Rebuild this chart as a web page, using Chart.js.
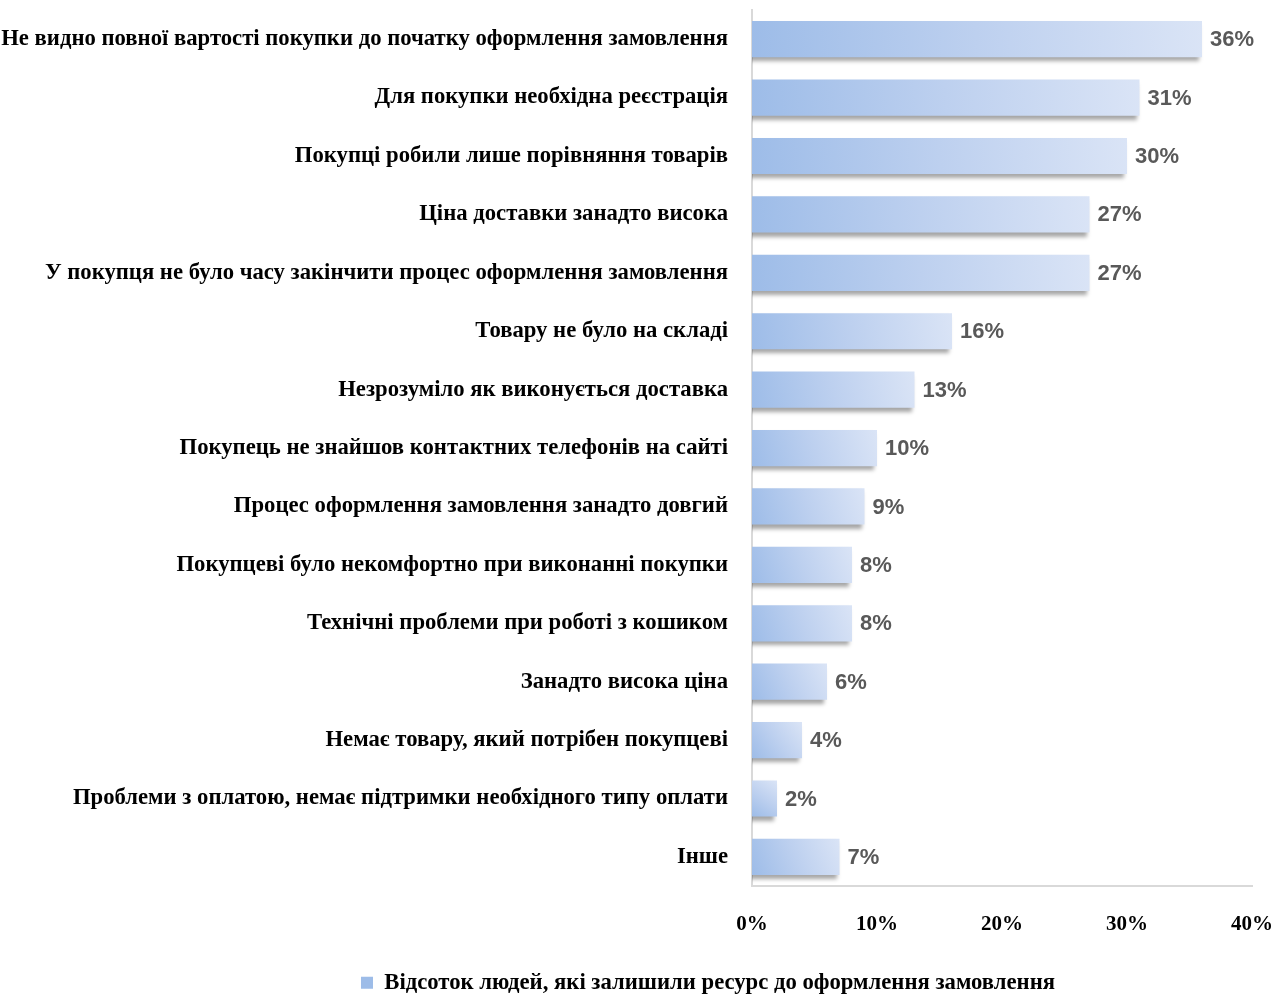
<!DOCTYPE html>
<html lang="uk">
<head>
<meta charset="utf-8">
<title>Причини відмови від покупки</title>
<script src="https://cdn.jsdelivr.net/npm/chart.js@4"></script>
<style>
  html, body { margin: 0; padding: 0; background: #fff; }
  #wrap { width: 1285px; height: 996px; position: relative; }
</style>
</head>
<body>
<div id="wrap"><canvas id="myChart"></canvas></div>
<script>
const categories = [
  "Не видно повної вартості покупки до початку оформлення замовлення",
  "Для покупки необхідна реєстрація",
  "Покупці робили лише порівняння товарів",
  "Ціна доставки занадто висока",
  "У покупця не було часу закінчити процес оформлення замовлення",
  "Товару не було на складі",
  "Незрозуміло як виконується доставка",
  "Покупець не знайшов контактних телефонів на сайті",
  "Процес оформлення замовлення занадто довгий",
  "Покупцеві було некомфортно при виконанні покупки",
  "Технічні проблеми при роботі з кошиком",
  "Занадто висока ціна",
  "Немає товару, який потрібен покупцеві",
  "Проблеми з оплатою, немає підтримки необхідного типу оплати",
  "Інше"
];
const values = [36, 31, 30, 27, 27, 16, 13, 10, 9, 8, 8, 6, 4, 2, 7];
const seriesName = "Відсоток людей, які залишили ресурс до оформлення замовлення";
const xTicks = [0, 10, 20, 30, 40];

const serif = "'Liberation Serif', 'Times New Roman', serif";

// gradient for each bar, from its own start to its own end
const barColor = (c) => {
  const plain = "#b4c9ec";
  if (c.type !== "data") return plain;
  const { x, y } = c.chart.scales;
  if (!x || !y) return plain;
  const x0 = x.getPixelForValue(0);
  const x1 = x.getPixelForValue(values[c.dataIndex]);
  const yc = y.getPixelForValue(c.dataIndex);
  if (![x0, x1, yc].every(Number.isFinite)) return plain;
  const g = c.chart.ctx.createLinearGradient(x0, yc + 18, x1, yc - 18);
  g.addColorStop(0, "#9dbce8");
  g.addColorStop(0.5, "#bdd0ef");
  g.addColorStop(1, "#dae4f6");
  return g;
};

const barShadow = {
  id: "barShadow",
  afterLayout(chart) {
    // legend sits under the middle of the whole figure, not the canvas
    chart.legend.left += 82;
    chart.legend.right += 82;
    chart.legend.top += 8;
    chart.legend.bottom += 8;
  },
  beforeDatasetsDraw(chart) {
    const ctx = chart.ctx;
    ctx.save();
    ctx.shadowColor = "rgba(0,0,0,0.35)";
    ctx.shadowBlur = 4;
    ctx.shadowOffsetX = -3;
    ctx.shadowOffsetY = 4;
  },
  afterDatasetsDraw(chart) {
    chart.ctx.restore();
    // value labels
    const ctx = chart.ctx;
    const meta = chart.getDatasetMeta(0);
    ctx.save();
    ctx.font = "bold 22px 'Liberation Sans', Arial, sans-serif";
    ctx.fillStyle = "#595959";
    ctx.textAlign = "left";
    ctx.textBaseline = "middle";
    meta.data.forEach((bar, i) => {
      ctx.fillText(values[i] + "%", bar.x + 8, bar.y + 1);
    });
    ctx.restore();
  }
};

new Chart(document.getElementById("myChart"), {
  type: "bar",
  data: {
    labels: categories,
    datasets: [
      {
        label: seriesName,
        data: values,
        backgroundColor: barColor,
        borderWidth: 0,
        barPercentage: 0.62,
        categoryPercentage: 1
      }
    ]
  },
  options: {
    indexAxis: "y",
    responsive: true,
    maintainAspectRatio: false,
    animation: false,
    layout: { padding: { top: 10, left: 0, right: 33, bottom: 0 } },
    scales: {
      x: {
        min: 0,
        max: 40,
        afterBuildTicks: (scale) => {
          scale.ticks = xTicks.map((v) => ({ value: v }));
        },
        afterFit: (scale) => {
          scale.paddingRight = 0;
        },
        grid: { display: false, drawTicks: false },
        border: { display: true, color: "#d9d9d9", width: 2 },
        ticks: {
          padding: 26,
          color: "#000",
          font: { family: serif, size: 21, weight: "bold" },
          callback: (v) => v + "%"
        }
      },
      y: {
        afterFit: (scale) => {
          scale.width = 752;
          scale.paddingTop = 0;
          scale.paddingBottom = 0;
        },
        grid: { display: false, drawTicks: false },
        border: { display: true, color: "#d9d9d9", width: 2 },
        ticks: {
          padding: 24,
          color: "#000",
          autoSkip: false,
          font: { family: serif, size: 22.7, weight: "bold" }
        }
      }
    },
    plugins: {
      legend: {
        position: "bottom",
        labels: {
          boxWidth: 12,
          boxHeight: 12,
          padding: 0,
          color: "#000",
          font: { family: serif, size: 22.7, weight: "bold" }
        }
      },
      tooltip: { enabled: false }
    }
  },
  plugins: [barShadow]
});
</script>
</body>
</html>
